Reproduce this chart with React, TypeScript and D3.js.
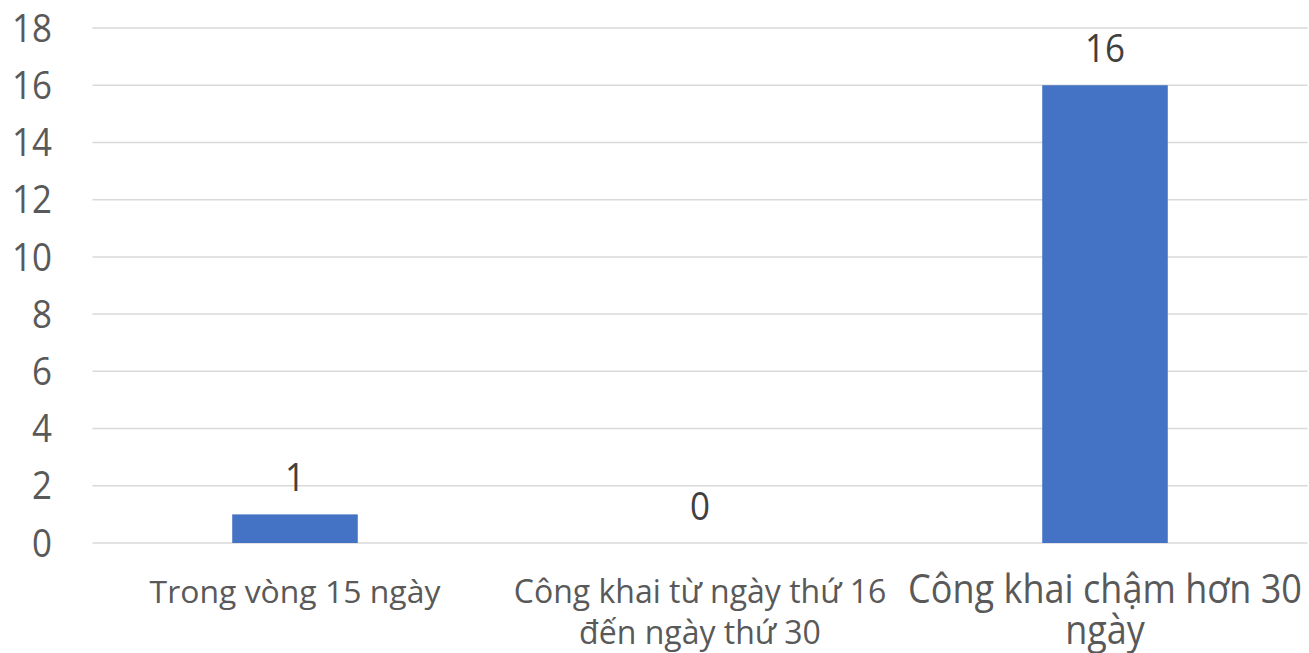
import { useRef, useEffect } from "react";
import { select, scaleLinear, scaleBand } from "d3";

//data
const categories = ["Trong vòng 15 ngày", "Công khai từ ngày thứ 16 đến ngày thứ 30", "Công khai chậm hơn 30 ngày"];
const categoryLines = [["Trong vòng 15 ngày"], ["Công khai từ ngày thứ 16", "đến ngày thứ 30"], ["Công khai chậm hơn 30", "ngày"]];
const values = [1, 0, 16];
const yTicks = [0, 2, 4, 6, 8, 10, 12, 14, 16, 18];

const W = 1309;
const H = 653;

const App = () => {
  const svgRef = useRef<SVGSVGElement>(null);

  useEffect(() => {
    const svg = select(svgRef.current);
    svg.selectAll("*").remove();

    const x = scaleBand<string>().domain(categories).range([92.5, 1307.5]).padding(0);
    const y = scaleLinear().domain([0, 18]).range([543, 28]);
    const barW = x.bandwidth() * 0.31;

    //gridlines
    svg
      .append("g")
      .selectAll("line")
      .data(yTicks)
      .join("line")
      .attr("x1", 92.5)
      .attr("x2", 1307.5)
      .attr("y1", (d) => y(d))
      .attr("y2", (d) => y(d))
      .attr("stroke", "#d9d9d9")
      .attr("stroke-width", 1.5);

    //y labels (text in the source is a bit narrow, so squeeze it)
    svg
      .append("g")
      .selectAll("text")
      .data(yTicks)
      .join("text")
      .attr("transform", (d) => `translate(52,${y(d)}) scale(0.92,1)`)
      .attr("dy", "0.36em")
      .attr("text-anchor", "end")
      .attr("font-size", 38)
      .attr("fill", "#595959")
      .text((d) => d);

    //bars
    svg
      .append("g")
      .selectAll("rect")
      .data(values)
      .join("rect")
      .attr("x", (d, i) => x(categories[i])! + x.bandwidth() / 2 - barW / 2)
      .attr("y", (d) => y(d))
      .attr("width", barW)
      .attr("height", (d) => y(0) - y(d))
      .attr("fill", "#4472c4");

    //value labels
    svg
      .append("g")
      .selectAll("text")
      .data(values)
      .join("text")
      .attr("transform", (d, i) => `translate(${x(categories[i])! + x.bandwidth() / 2},${y(d) - 23}) scale(0.92,1)`)
      .attr("text-anchor", "middle")
      .attr("font-size", 38)
      .attr("fill", "#404040")
      .text((d) => d);

    //category labels
    const sizes = [31, 32, 40.5];
    const sx = [1.03, 1.0, 0.89];
    const g = svg.append("g");
    categoryLines.forEach((lines, i) => {
      lines.forEach((ln, j) => {
        g.append("text")
          .attr("transform", `translate(${x(categories[i])! + x.bandwidth() / 2},${603 + j * 41}) scale(${sx[i]},1)`)
          .attr("text-anchor", "middle")
          .attr("font-size", sizes[i])
          .attr("fill", "#595959")
          .text(ln);
      });
    });
  }, []);

  return (
    <svg
      ref={svgRef}
      width={W}
      height={H}
      style={{ position: "absolute", left: 0, top: 0, fontFamily: "'Open Sans', sans-serif", background: "#fff" }}
    ></svg>
  );
};

export default App;
